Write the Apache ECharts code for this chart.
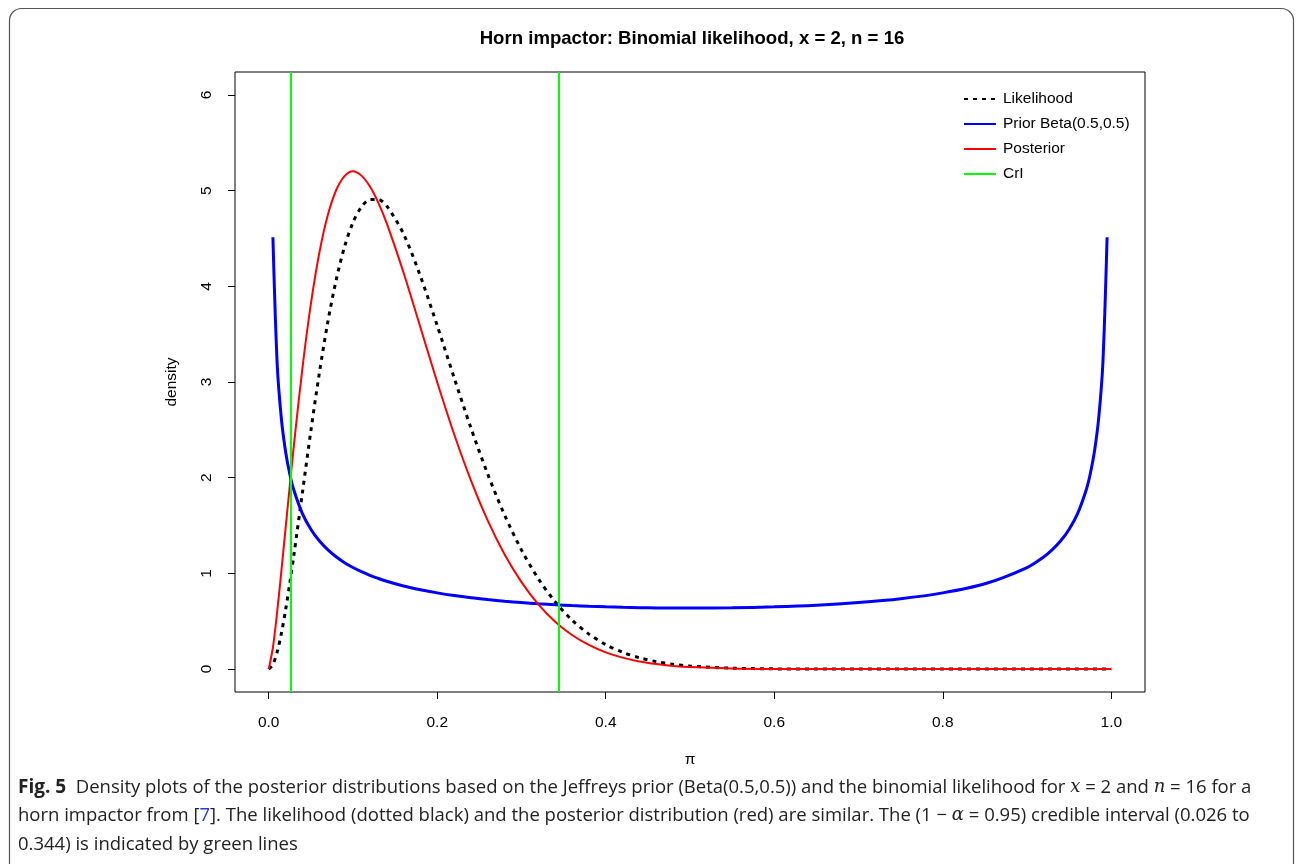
<!DOCTYPE html>
<html>
<head>
<meta charset="utf-8">
<script src="https://cdn.jsdelivr.net/npm/echarts@6/dist/echarts.min.js"></script>
<style>
  html, body { margin: 0; padding: 0; background: #fff; }
  #chart { width: 1296px; height: 864px; }
</style>
</head>
<body>
<div id="chart"></div>
<script>
// pi values (x) and density readings for each curve
var pi_values = [0, 0.005, 0.01, 0.015, 0.02, 0.025, 0.03, 0.04, 0.05, 0.06, 0.07, 0.08, 0.09, 0.10, 0.11, 0.12, 0.13, 0.14,
  0.16, 0.18, 0.20, 0.22, 0.24, 0.26, 0.28, 0.30, 0.32, 0.34, 0.36, 0.38, 0.40, 0.42, 0.44, 0.46, 0.48, 0.50,
  0.55, 0.60, 0.65, 0.70, 0.75, 0.80, 0.85, 0.90, 0.92, 0.93, 0.94, 0.95, 0.96, 0.97, 0.975, 0.98, 0.985, 0.99, 0.995, 1.0]

var likelihood = [0, 0.048, 0.177, 0.371, 0.615, 0.895, 1.199, 1.843, 2.487, 3.088, 3.619, 4.063, 4.413, 4.667, 4.829, 4.906, 4.907, 4.840,
  4.548, 4.107, 3.589, 3.047, 2.520, 2.036, 1.609, 1.245, 0.944, 0.702, 0.511, 0.365, 0.256, 0.175, 0.118, 0.077, 0.050, 0.031,
  0.009, 0.002, 0.0003, 0, 0, 0, 0, 0, 0, 0, 0, 0, 0, 0, 0, 0, 0, 0, 0, 0]

var prior = [null, 4.513, 3.199, 2.619, 2.274, 2.039, 1.866, 1.624, 1.461, 1.340, 1.248, 1.173, 1.112, 1.061, 1.017, 0.980, 0.947, 0.917,
  0.868, 0.829, 0.796, 0.768, 0.745, 0.726, 0.709, 0.695, 0.682, 0.672, 0.663, 0.656, 0.650, 0.645, 0.641, 0.639, 0.637, 0.637,
  0.640, 0.650, 0.667, 0.695, 0.735, 0.796, 0.891, 1.061, 1.173, 1.248, 1.340, 1.461, 1.624, 1.866, 2.039, 2.274, 2.619, 3.199, 4.513, null]

var posterior = [0, 0.225, 0.595, 1.021, 1.468, 1.914, 2.348, 3.143, 3.813, 4.345, 4.739, 5.004, 5.152, 5.203, 5.157, 5.045, 4.875, 4.661,
  4.144, 3.572, 2.998, 2.457, 1.972, 1.551, 1.197, 0.908, 0.676, 0.495, 0.356, 0.252, 0.174, 0.119, 0.079, 0.052, 0.033, 0.021,
  0.006, 0.001, 0, 0, 0, 0, 0, 0, 0, 0, 0, 0, 0, 0, 0, 0, 0, 0, 0, 0]

var cri_bounds = [0.026, 0.344]
var x_ticks = [0, 0.2, 0.4, 0.6, 0.8, 1.0]
var y_ticks = [0, 1, 2, 3, 4, 5, 6]

function pairs(ys) {
  return pi_values.map(function (x, i) {
    return [x, ys[i]]
  })
}

var myChart = echarts.init(document.getElementById('chart'))

var axisFont = { fontFamily: 'Liberation Sans', fontSize: 15.5, color: '#000' }

var option = {
  animation: false,
  title: {
    text: 'Horn impactor: Binomial likelihood, x = 2, n = 16',
    left: 687,
    textAlign: 'center',
    top: 24,
    textStyle: { fontFamily: 'Liberation Sans', fontWeight: 'bold', fontSize: 18.6, color: '#000' }
  },
  legend: {
    left: 958,
    top: 86,
    orient: 'vertical',
    itemWidth: 32,
    itemHeight: 14,
    itemGap: 9,
    itemStyle: { opacity: 0 },
    textStyle: { fontFamily: 'Liberation Sans', fontSize: 15.5, color: '#000', padding: [0, 0, 0, 2] },
    data: ['Likelihood', 'Prior Beta(0.5,0.5)', 'Posterior', 'CrI']
  },
  grid: {
    left: 235,
    top: 72,
    width: 910,
    height: 620,
    show: true,
    borderColor: '#000',
    borderWidth: 1,
    containLabel: false
  },
  xAxis: {
    type: 'value',
    min: -0.04,
    max: 1.04,
    name: 'π',
    nameLocation: 'middle',
    nameGap: 60,
    nameTextStyle: { fontFamily: 'Liberation Sans', fontSize: 15.5, color: '#000' },
    axisLine: { show: false, onZero: false },
    axisTick: { show: true, customValues: x_ticks, length: 7, lineStyle: { color: '#000' } },
    axisLabel: Object.assign({ customValues: x_ticks, margin: 23, formatter: function (v) { return v.toFixed(1) } }, axisFont),
    splitLine: { show: false }
  },
  yAxis: {
    type: 'value',
    min: -0.24,
    max: 6.24,
    name: 'density',
    nameLocation: 'middle',
    nameGap: 55,
    nameRotate: 90,
    nameTextStyle: { fontFamily: 'Liberation Sans', fontSize: 15.5, color: '#000' },
    axisLine: { show: false, onZero: false },
    axisTick: { show: true, customValues: y_ticks, length: 7, lineStyle: { color: '#000' } },
    axisLabel: Object.assign({ customValues: y_ticks, margin: 20, rotate: 90 }, axisFont),
    splitLine: { show: false }
  },
  series: [
    {
      name: 'Likelihood',
      type: 'line',
      data: pairs(likelihood),
      symbol: 'none',
      smooth: 0.3,
      color: '#000',
      lineStyle: { color: '#000', width: 3, type: [4, 5] },
      z: 2
    },
    {
      name: 'Prior Beta(0.5,0.5)',
      type: 'line',
      data: pairs(prior),
      symbol: 'none',
      smooth: 0.3,
      color: '#0000ff',
      lineStyle: { color: '#0000ff', width: 3 },
      z: 3
    },
    {
      name: 'Posterior',
      type: 'line',
      data: pairs(posterior),
      symbol: 'none',
      smooth: 0.3,
      color: '#ff0000',
      lineStyle: { color: '#ff0000', width: 2 },
      z: 4
    },
    {
      name: 'CrI',
      type: 'line',
      data: [],
      symbol: 'none',
      color: '#00ff00',
      lineStyle: { color: '#00ff00', width: 2 },
      z: 5,
      markLine: {
        silent: true,
        symbol: 'none',
        precision: 3,
        label: { show: false },
        lineStyle: { color: '#00ff00', width: 2, type: 'solid' },
        data: cri_bounds.map(function (v) { return { xAxis: v } })
      }
    }
  ],
  graphic: [
    {
      type: 'rect',
      shape: { x: 9.5, y: 8.5, width: 1284, height: 880, r: 12 },
      style: { fill: 'none', stroke: '#555', lineWidth: 1.2 },
      silent: true
    },
    {
      type: 'text',
      left: 18,
      top: 773,
      style: {
        text: '{b|Fig. 5}  Density plots of the posterior distributions based on the Jeffreys prior (Beta(0.5,0.5)) and the binomial likelihood for {m|x} = 2 and {m|n} = 16 for a\n' +
          'horn impactor from [{lnk|7}]. The likelihood (dotted black) and the posterior distribution (red) are similar. The (1 − {m|α} = 0.95) credible interval (0.026 to\n' +
          '0.344) is indicated by green lines',
        fontFamily: 'Open Sans',
        fontSize: 18.5,
        lineHeight: 28.5,
        fill: '#222',
        rich: {
          b: { fontFamily: 'Open Sans', fontWeight: 'bold', fontSize: 19, fill: '#222', lineHeight: 28.5 },
          m: { fontFamily: 'DejaVu Serif', fontStyle: 'italic', fontSize: 18, fill: '#222', lineHeight: 28.5 },
          lnk: { fontFamily: 'Open Sans', fontSize: 18.5, fill: '#2a3cdc', lineHeight: 28.5 }
        }
      }
    }
  ]
}

myChart.setOption(option)
window.addEventListener('resize', function () {
  myChart.resize()
})
</script>
</body>
</html>
